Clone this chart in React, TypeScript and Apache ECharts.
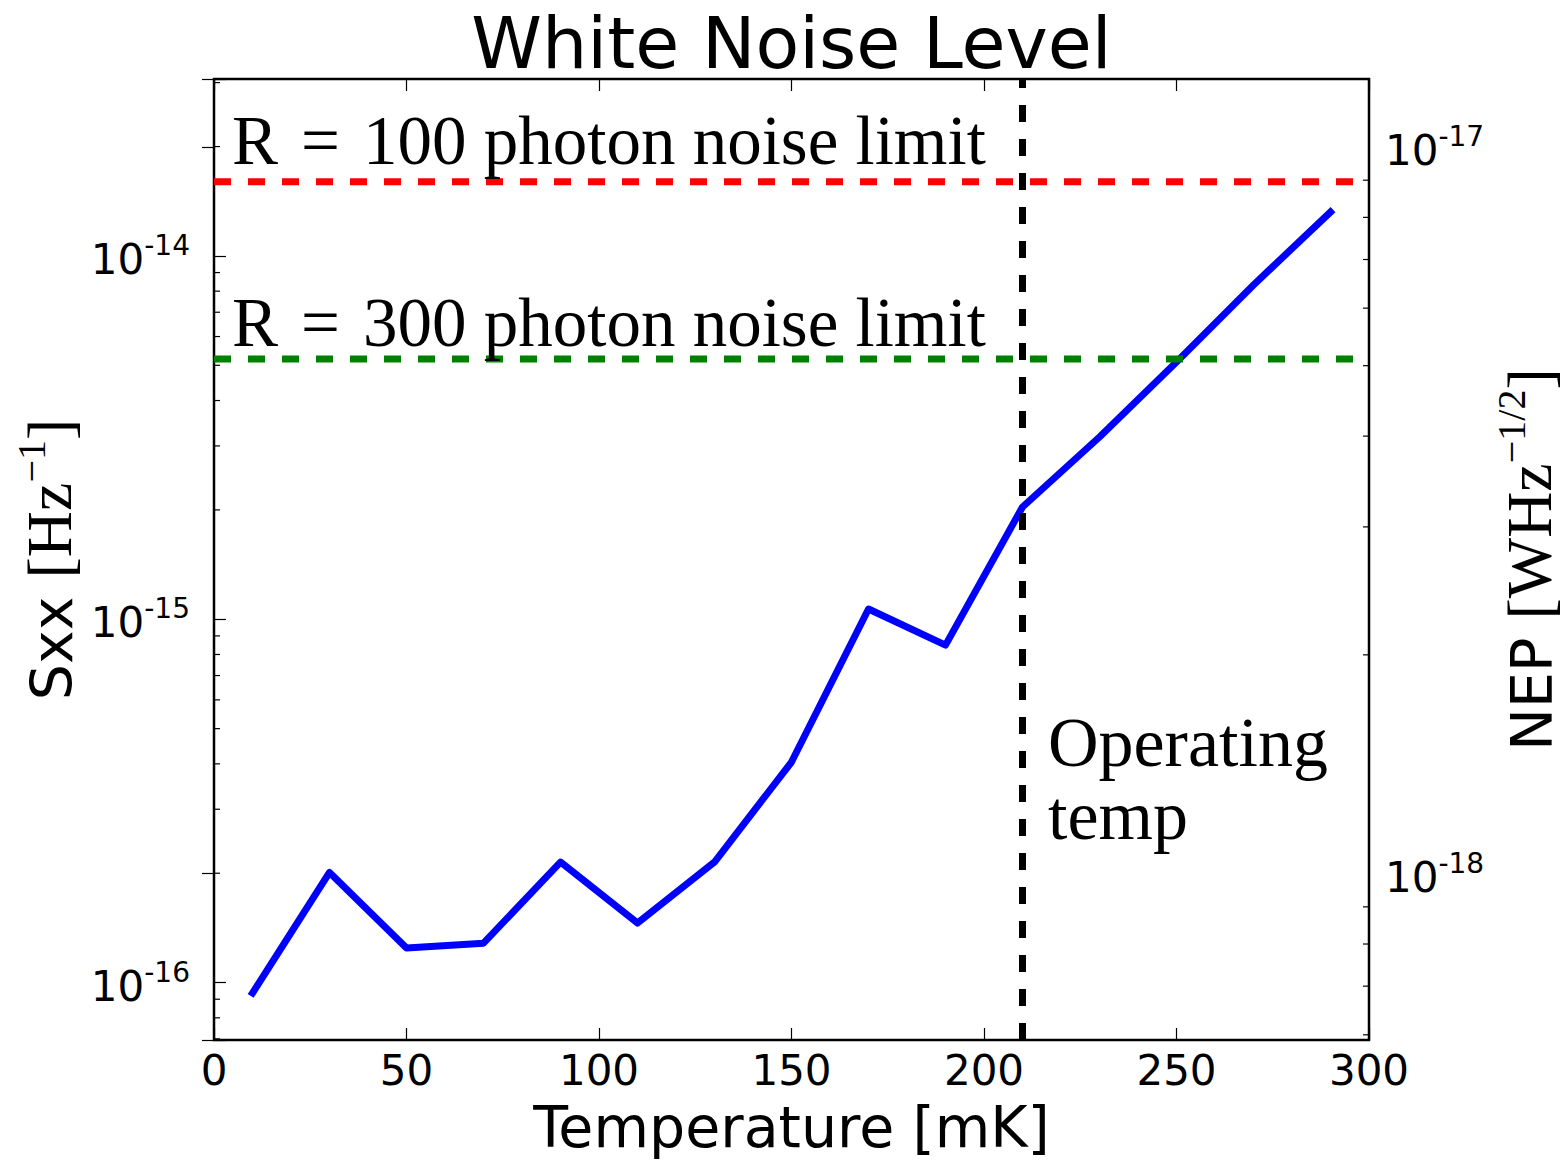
import React, { useEffect, useRef } from "react";
import * as echarts from "echarts";

// Measured white-noise level (Sxx) against bath temperature
const temperatures = [10, 30, 50, 70, 90, 110, 130, 150, 170, 190, 210, 230, 250, 270, 290];
const sxxValues = [
  9.36e-17, 2.01e-16, 1.245e-16, 1.284e-16, 2.146e-16, 1.458e-16, 2.146e-16, 4.046e-16,
  1.067e-15, 8.49e-16, 2.037e-15, 3.175e-15, 5.107e-15, 8.32e-15, 1.321e-14,
];

// Photon-noise limits and the operating temperature
const r100Limit = 1.6e-14;
const r300Limit = 5.2e-15;
const operatingTemp = 210;

// Axis ranges
const tempMin = 0;
const tempMax = 300;
const tempStep = 50;
const sxxMin = Math.pow(10, -16.158);
const sxxMax = Math.pow(10, -13.513);
// NEP axis is tied to the Sxx axis: NEP = nepScale * sqrt(Sxx)
const nepScale = Math.pow(10, -10.15);
const nepMin = nepScale * Math.sqrt(sxxMin);
const nepMax = nepScale * Math.sqrt(sxxMax);

// Minor log ticks (2..9 x 10^n)
const minorMantissas = [2, 3, 4, 5, 6, 7, 8, 9];
const sxxDecades = [-17, -16, -15, -14];
const nepDecades = [-19, -18, -17];

const minorTicks = (decades: number[], lo: number, hi: number) => {
  const out: number[] = [];
  decades.forEach((d) => {
    minorMantissas.forEach((m) => {
      const v = m * Math.pow(10, d);
      if (v > lo && v < hi) out.push(v);
    });
  });
  return out;
};

const powerLabel = (v: number) => {
  const e = Math.log10(v);
  const r = Math.round(e);
  if (Math.abs(e - r) > 1e-6) return "";
  return `{b|10}{s|${r}}`;
};

const tickRich = {
  b: { fontFamily: "DejaVu Sans", fontSize: 42, color: "#000", padding: [7, 0, 0, 0], verticalAlign: "top" },
  s: { fontFamily: "DejaVu Sans", fontSize: 28, color: "#000", verticalAlign: "top" },
};

const nameRich = {
  t: { fontFamily: "DejaVu Sans", fontSize: 57, color: "#000", padding: [12, 0, 0, 0], verticalAlign: "top" },
  r: { fontFamily: "Liberation Serif", fontSize: 64, color: "#000", padding: [6, 0, 0, 0], verticalAlign: "top" },
  u: { fontFamily: "Liberation Serif", fontSize: 40, color: "#000", verticalAlign: "top" },
};

const SERIF = "Liberation Serif";
const GRID = { left: 214, top: 79, width: 1155, height: 961 };
const LW = 7;
const DASH = [17, 17];

export default function App() {
  const ref = useRef<HTMLDivElement>(null);

  useEffect(() => {
    if (!ref.current) return;
    document.documentElement.style.overflow = "hidden";
    document.body.style.margin = "0";
    const chart = echarts.init(ref.current, undefined, { renderer: "svg" });

    const tickStyle = { show: true, inside: true, length: 12, lineStyle: { color: "#000", width: 1.2 } };

    chart.setOption({
      animation: false,
      backgroundColor: "#fff",
      grid: {
        ...GRID,
        containLabel: false,
        outerBoundsMode: "none",
        show: true,
        borderColor: "#000",
        borderWidth: 2.5,
        backgroundColor: "transparent",
      },
      xAxis: [
        {
          type: "value",
          min: tempMin,
          max: tempMax,
          interval: tempStep,
          position: "bottom",
          axisLine: { show: false },
          axisTick: tickStyle,
          splitLine: { show: false },
          axisLabel: {
            fontFamily: "DejaVu Sans",
            fontSize: 42,
            color: "#000",
            margin: 9,
            showMinLabel: true,
            showMaxLabel: true,
          },
          name: "Temperature [mK]",
          nameLocation: "middle",
          nameGap: 58,
          nameMoveOverlap: false,
          nameTextStyle: { fontFamily: "DejaVu Sans", fontSize: 57, color: "#000" },
        },
        {
          type: "value",
          min: tempMin,
          max: tempMax,
          interval: tempStep,
          position: "top",
          axisLine: { show: false },
          axisTick: tickStyle,
          splitLine: { show: false },
          axisLabel: { show: false },
        },
      ],
      yAxis: [
        {
          type: "log",
          logBase: 10,
          min: sxxMin,
          max: sxxMax,
          position: "left",
          axisLine: { show: false },
          axisTick: tickStyle,
          splitLine: { show: false },
          axisLabel: { formatter: powerLabel, rich: tickRich, margin: 24 },
          name: "{t|Sxx }{r|[Hz}{u|\u22121}{r|]}",
          nameLocation: "middle",
          nameRotate: 90,
          nameGap: 133,
          nameMoveOverlap: false,
          nameTextStyle: { rich: nameRich },
        },
        {
          type: "log",
          logBase: 10,
          min: nepMin,
          max: nepMax,
          position: "right",
          axisLine: { show: false },
          axisTick: tickStyle,
          splitLine: { show: false },
          axisLabel: { formatter: powerLabel, rich: tickRich, margin: 16 },
          name: "{t|NEP }{r|[WHz}{u|\u22121/2}{r|]}",
          nameLocation: "middle",
          nameRotate: 90,
          nameGap: 122,
          nameMoveOverlap: false,
          nameTextStyle: { rich: nameRich },
        },
      ],
      series: [
        {
          type: "line",
          xAxisIndex: 0,
          yAxisIndex: 0,
          data: temperatures.map((t, i) => [t, sxxValues[i]]),
          symbol: "none",
          lineStyle: { color: "#0000ff", width: LW, join: "round", cap: "square" },
          z: 3,
        },
        {
          type: "line",
          xAxisIndex: 0,
          yAxisIndex: 0,
          data: [
            [tempMin, r100Limit],
            [tempMax, r100Limit],
          ],
          symbol: "none",
          lineStyle: { color: "#ff0000", width: LW, type: DASH, cap: "butt" },
          z: 4,
        },
        {
          type: "line",
          xAxisIndex: 0,
          yAxisIndex: 0,
          data: [
            [tempMin, r300Limit],
            [tempMax, r300Limit],
          ],
          symbol: "none",
          lineStyle: { color: "#008000", width: LW, type: DASH, cap: "butt" },
          z: 4,
        },
        {
          type: "line",
          xAxisIndex: 0,
          yAxisIndex: 0,
          data: [
            [operatingTemp, sxxMin],
            [operatingTemp, sxxMax],
          ],
          symbol: "none",
          lineStyle: { color: "#000000", width: LW, type: DASH, cap: "butt" },
          z: 5,
        },
        {
          // minor ticks of the Sxx axis (inside, left edge)
          type: "custom",
          xAxisIndex: 0,
          yAxisIndex: 0,
          silent: true,
          clip: false,
          data: minorTicks(sxxDecades, sxxMin, sxxMax).map((v) => [tempMin, v]),
          renderItem: (_p: any, api: any) => {
            const pt = api.coord([tempMin, api.value(1)]);
            return {
              type: "line",
              shape: { x1: pt[0], y1: pt[1], x2: pt[0] + 6, y2: pt[1] },
              style: { stroke: "#000", lineWidth: 1.2 },
            };
          },
          z: 6,
        },
        {
          // minor ticks of the NEP axis (inside, right edge)
          type: "custom",
          xAxisIndex: 0,
          yAxisIndex: 1,
          silent: true,
          clip: false,
          data: minorTicks(nepDecades, nepMin, nepMax).map((v) => [tempMax, v]),
          renderItem: (_p: any, api: any) => {
            const pt = api.coord([tempMax, api.value(1)]);
            return {
              type: "line",
              shape: { x1: pt[0], y1: pt[1], x2: pt[0] - 6, y2: pt[1] },
              style: { stroke: "#000", lineWidth: 1.2 },
            };
          },
          z: 6,
        },
      ],
      graphic: [
        {
          type: "text",
          x: 791.5,
          y: 43,
          style: {
            text: "White Noise Level",
            fontFamily: "DejaVu Sans",
            fontSize: 71.5,
            fill: "#000",
            align: "center",
            verticalAlign: "middle",
          },
        },
        {
          type: "text",
          x: 232,
          y: 141,
          z: 10,
          style: {
            text: "R\u2004=\u2004100 photon noise limit",
            fontFamily: SERIF,
            fontSize: 69,
            fill: "#000",
            align: "left",
            verticalAlign: "middle",
          },
        },
        {
          type: "text",
          x: 232,
          y: 323,
          z: 10,
          style: {
            text: "R\u2004=\u2004300 photon noise limit",
            fontFamily: SERIF,
            fontSize: 69,
            fill: "#000",
            align: "left",
            verticalAlign: "middle",
          },
        },
        {
          type: "text",
          x: 1048,
          y: 742,
          z: 10,
          style: {
            text: "Operating",
            fontFamily: SERIF,
            fontSize: 70,
            fill: "#000",
            align: "left",
            verticalAlign: "middle",
          },
        },
        {
          type: "text",
          x: 1048,
          y: 815,
          z: 10,
          style: {
            text: "temp",
            fontFamily: SERIF,
            fontSize: 70,
            fill: "#000",
            align: "left",
            verticalAlign: "middle",
          },
        },
      ],
    });

    return () => chart.dispose();
  }, []);

  return (
    <div
      ref={ref}
      style={{ position: "fixed", left: 0, top: 0, width: 1567, height: 1161, background: "#fff" }}
    />
  );
}
